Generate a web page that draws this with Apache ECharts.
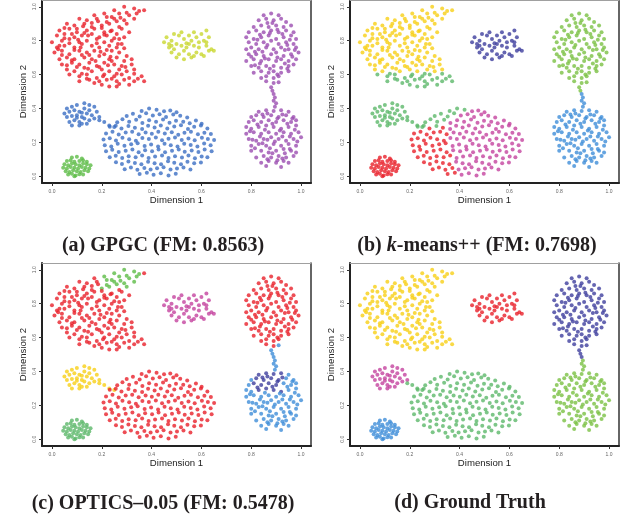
<!DOCTYPE html>
<html>
<head>
<meta charset="utf-8">
<script src="https://cdn.jsdelivr.net/npm/echarts@6/dist/echarts.min.js"></script>
<style>
  html, body { margin: 0; padding: 0; background: #fff; }
  #chart { width: 625px; height: 518px; }
</style>
</head>
<body>
<div id="chart"></div>
<script>
// same point set in all four panels, only the cluster colours change
const topLeftPts = [
  [0.25,0.98],[0.29,1.00],[0.33,0.99],[0.37,0.98],
  [0.17,0.95],[0.21,0.96],[0.24,0.94],[0.27,0.96],[0.31,0.95],[0.34,0.96],
  [0.11,0.93],[0.14,0.92],[0.18,0.93],[0.22,0.91],[0.25,0.93],[0.29,0.92],[0.33,0.93],
  [0.06,0.90],[0.09,0.89],[0.13,0.90],[0.16,0.88],[0.20,0.89],[0.23,0.90],[0.27,0.88],[0.30,0.90],
  [0.03,0.86],[0.07,0.87],[0.10,0.85],[0.14,0.86],[0.17,0.87],[0.21,0.85],[0.24,0.86],[0.28,0.87],[0.31,0.85],
  [0.02,0.83],[0.05,0.84],[0.09,0.82],[0.12,0.83],[0.16,0.84],[0.19,0.82],[0.22,0.83],[0.26,0.84],[0.29,0.82],
  [0.00,0.79],[0.04,0.80],[0.07,0.81],[0.11,0.79],[0.14,0.80],[0.18,0.81],[0.21,0.79],[0.24,0.80],[0.27,0.81],
  [0.02,0.76],[0.05,0.77],[0.09,0.76],[0.12,0.78],[0.16,0.77],[0.19,0.76],[0.23,0.77],[0.26,0.76],[0.28,0.78],
  [0.01,0.73],[0.04,0.74],[0.07,0.72],[0.11,0.74],[0.14,0.73],[0.17,0.74],[0.21,0.72],[0.24,0.74],[0.27,0.73],[0.30,0.71],
  [0.03,0.69],[0.06,0.70],[0.09,0.69],[0.13,0.70],[0.16,0.69],[0.19,0.71],[0.23,0.69],[0.26,0.70],[0.29,0.68],[0.32,0.69],
  [0.04,0.66],[0.08,0.67],[0.11,0.66],[0.15,0.67],[0.18,0.65],[0.21,0.67],[0.25,0.66],[0.28,0.65],[0.32,0.66],
  [0.06,0.63],[0.09,0.62],[0.13,0.64],[0.16,0.62],[0.20,0.63],[0.23,0.62],[0.27,0.63],[0.30,0.62],[0.33,0.63],
  [0.07,0.60],[0.11,0.59],[0.14,0.60],[0.18,0.58],[0.21,0.60],[0.25,0.59],[0.28,0.60],[0.31,0.58],[0.36,0.59],
  [0.11,0.56],[0.15,0.57],[0.19,0.56],[0.22,0.57],[0.26,0.56],[0.29,0.57],[0.33,0.56],[0.37,0.56],
  [0.20,0.54],[0.23,0.53],[0.26,0.53],[0.31,0.54],
  [0.05,0.815],[0.13,0.845],[0.20,0.875],[0.09,0.745],[0.18,0.785],[0.25,0.815],[0.15,0.715],[0.22,0.745],
  [0.08,0.685],[0.24,0.68],[0.12,0.605],[0.19,0.645],[0.26,0.605],[0.16,0.905],[0.26,0.915],[0.10,0.87],
  [0.03,0.77],[0.29,0.755],[0.17,0.55],[0.24,0.575],[0.06,0.655],[0.12,0.715],[0.21,0.835],[0.30,0.965],
  [0.22,0.94],[0.33,0.605],[0.08,0.84],
  [0.04,0.715],[0.115,0.76],[0.195,0.735],[0.265,0.78],[0.07,0.785],[0.145,0.83],[0.235,0.855],[0.185,0.915],
  [0.125,0.885],[0.05,0.875],[0.275,0.935],[0.35,0.975],[0.10,0.645],[0.225,0.655],[0.295,0.645],[0.145,0.635],
  [0.205,0.59],[0.27,0.545],[0.345,0.575],[0.14,0.575],[0.025,0.75],[0.175,0.68],[0.105,0.805],[0.235,0.705]
];
const topMidPts = [
  [0.46,0.82],[0.49,0.84],[0.52,0.85],[0.55,0.83],[0.57,0.85],[0.60,0.84],[0.62,0.86],
  [0.45,0.79],[0.48,0.80],[0.50,0.78],[0.53,0.81],[0.56,0.80],[0.58,0.82],[0.61,0.80],[0.63,0.82],
  [0.47,0.76],[0.49,0.75],[0.52,0.77],[0.54,0.76],[0.57,0.77],[0.59,0.76],[0.62,0.77],[0.64,0.75],
  [0.48,0.73],[0.51,0.72],[0.53,0.74],[0.55,0.72],[0.58,0.73],[0.60,0.72],[0.63,0.74],[0.65,0.74],
  [0.50,0.70],[0.53,0.69],[0.56,0.70],[0.57,0.71],[0.61,0.71],
  [0.47,0.78],[0.51,0.83],[0.55,0.78],[0.59,0.79],[0.62,0.79],[0.54,0.785],[0.48,0.77]
];
const rightTopPts = [
  [0.85,0.95],[0.88,0.96],[0.91,0.95],
  [0.83,0.92],[0.86,0.93],[0.89,0.92],[0.92,0.93],[0.94,0.91],
  [0.81,0.88],[0.84,0.89],[0.87,0.88],[0.90,0.89],[0.93,0.88],[0.96,0.89],
  [0.79,0.85],[0.82,0.86],[0.85,0.85],[0.88,0.86],[0.91,0.85],[0.94,0.86],[0.97,0.85],
  [0.78,0.82],[0.81,0.81],[0.84,0.82],[0.87,0.83],[0.90,0.81],[0.93,0.82],[0.96,0.83],[0.98,0.81],
  [0.79,0.79],[0.82,0.78],[0.85,0.79],[0.88,0.80],[0.91,0.78],[0.94,0.79],[0.97,0.78],
  [0.78,0.75],[0.80,0.76],[0.83,0.75],[0.86,0.76],[0.89,0.75],[0.92,0.76],[0.95,0.75],[0.98,0.76],
  [0.79,0.72],[0.82,0.72],[0.85,0.71],[0.88,0.72],[0.90,0.73],[0.93,0.71],[0.96,0.72],[0.99,0.73],
  [0.78,0.68],[0.81,0.69],[0.84,0.68],[0.87,0.69],[0.90,0.68],[0.92,0.69],[0.95,0.68],[0.98,0.69],
  [0.80,0.65],[0.83,0.64],[0.86,0.65],[0.89,0.65],[0.92,0.64],[0.95,0.65],[0.97,0.66],
  [0.81,0.61],[0.84,0.62],[0.87,0.61],[0.89,0.62],[0.92,0.61],[0.95,0.62],
  [0.84,0.58],[0.86,0.59],[0.89,0.58],[0.91,0.59],
  [0.86,0.56],[0.89,0.55],
  [0.865,0.905],[0.905,0.865],[0.835,0.835],[0.955,0.805],[0.865,0.775],[0.935,0.745],[0.815,0.735],
  [0.905,0.70],[0.835,0.665],[0.935,0.665],[0.875,0.635],[0.905,0.60],[0.925,0.84],[0.80,0.705],
  [0.825,0.805],[0.875,0.845],[0.945,0.775],[0.845,0.735],[0.965,0.705],[0.855,0.695],[0.885,0.905],
  [0.815,0.655],[0.945,0.635],[0.975,0.745]
];
const bridgePts = [
  [0.91,0.555],[0.88,0.525],[0.885,0.505],[0.89,0.485],[0.895,0.465],[0.89,0.445],[0.90,0.43],[0.895,0.41]
];
const rightBottomPts = [
  [0.83,0.38],[0.86,0.39],[0.89,0.385],[0.92,0.39],[0.95,0.38],
  [0.80,0.35],[0.82,0.36],[0.85,0.35],[0.88,0.36],[0.91,0.35],[0.94,0.36],[0.97,0.35],
  [0.79,0.32],[0.81,0.33],[0.84,0.32],[0.87,0.33],[0.90,0.32],[0.93,0.33],[0.96,0.32],[0.98,0.33],
  [0.78,0.29],[0.80,0.28],[0.83,0.29],[0.86,0.30],[0.89,0.29],[0.92,0.28],[0.95,0.29],[0.98,0.30],
  [0.78,0.25],[0.81,0.26],[0.84,0.25],[0.87,0.26],[0.90,0.25],[0.93,0.26],[0.96,0.25],[0.99,0.26],
  [0.79,0.22],[0.82,0.21],[0.85,0.22],[0.88,0.23],[0.91,0.22],[0.94,0.21],[0.97,0.22],[1.00,0.23],
  [0.80,0.18],[0.83,0.19],[0.86,0.18],[0.89,0.19],[0.92,0.18],[0.95,0.19],[0.98,0.18],
  [0.80,0.15],[0.84,0.15],[0.87,0.14],[0.90,0.15],[0.93,0.16],[0.96,0.15],[0.98,0.14],
  [0.82,0.11],[0.85,0.12],[0.88,0.11],[0.91,0.12],[0.94,0.11],[0.97,0.12],
  [0.84,0.08],[0.87,0.09],[0.90,0.08],[0.93,0.09],[0.95,0.08],
  [0.86,0.06],[0.92,0.055],
  [0.865,0.37],[0.925,0.365],[0.825,0.305],[0.885,0.31],[0.945,0.31],[0.795,0.265],[0.855,0.275],
  [0.915,0.27],[0.975,0.275],[0.835,0.235],[0.895,0.205],[0.955,0.235],[0.815,0.165],[0.875,0.165],
  [0.935,0.135],[0.865,0.10],[0.905,0.095],
  [0.845,0.365],[0.905,0.34],[0.965,0.34],[0.805,0.215],[0.865,0.215],[0.925,0.235],[0.985,0.205],
  [0.845,0.195],[0.955,0.16],[0.885,0.135],[0.925,0.105]
];
const midLeftPts = [
  [0.06,0.40],[0.08,0.41],[0.10,0.42],[0.13,0.43],[0.15,0.42],[0.17,0.41],
  [0.05,0.37],[0.07,0.38],[0.09,0.39],[0.11,0.38],[0.13,0.40],[0.15,0.39],[0.18,0.38],
  [0.06,0.35],[0.08,0.355],[0.10,0.36],[0.12,0.35],[0.14,0.37],[0.16,0.36],[0.19,0.35],
  [0.07,0.32],[0.09,0.33],[0.11,0.32],[0.13,0.34],[0.15,0.33],[0.17,0.34],
  [0.08,0.30],[0.11,0.30],[0.12,0.31],[0.14,0.31],[0.10,0.345],[0.12,0.375]
];
const tailPts = [[0.19,0.33],[0.21,0.32],[0.23,0.30],[0.25,0.29]];
const bigEllipsePts = [
  [0.36,0.385],[0.39,0.40],[0.42,0.392],[0.45,0.383],[0.475,0.388],[0.50,0.378],
  [0.30,0.355],[0.325,0.368],[0.352,0.352],[0.378,0.372],[0.405,0.358],[0.432,0.366],[0.458,0.35],[0.487,0.364],[0.515,0.357],[0.543,0.347],
  [0.262,0.318],[0.283,0.336],[0.31,0.322],[0.338,0.334],[0.363,0.314],[0.39,0.33],[0.418,0.322],[0.446,0.335],[0.472,0.316],[0.498,0.328],[0.527,0.322],[0.553,0.312],[0.578,0.329],[0.601,0.31],
  [0.232,0.292],[0.256,0.298],[0.279,0.281],[0.307,0.296],[0.333,0.286],[0.362,0.279],[0.386,0.298],[0.412,0.287],[0.437,0.30],[0.463,0.282],[0.491,0.293],[0.518,0.301],[0.546,0.279],[0.571,0.292],[0.598,0.299],[0.624,0.282],
  [0.217,0.252],[0.243,0.262],[0.268,0.246],[0.296,0.258],[0.322,0.263],[0.348,0.247],[0.376,0.258],[0.401,0.25],[0.427,0.263],[0.453,0.252],[0.481,0.26],[0.507,0.245],[0.532,0.257],[0.558,0.263],[0.586,0.247],[0.612,0.256],[0.638,0.249],
  [0.207,0.217],[0.232,0.224],[0.257,0.211],[0.283,0.227],[0.31,0.218],[0.337,0.21],[0.363,0.226],[0.389,0.219],[0.417,0.228],[0.442,0.212],[0.468,0.221],[0.494,0.229],[0.521,0.214],[0.548,0.222],[0.573,0.212],[0.602,0.227],[0.626,0.219],[0.651,0.214],
  [0.212,0.183],[0.238,0.176],[0.264,0.192],[0.291,0.18],[0.318,0.188],[0.344,0.195],[0.372,0.179],[0.398,0.187],[0.426,0.176],[0.452,0.192],[0.477,0.183],[0.504,0.175],[0.531,0.191],[0.557,0.184],[0.584,0.176],[0.611,0.193],[0.637,0.183],
  [0.217,0.147],[0.242,0.156],[0.268,0.143],[0.296,0.151],[0.323,0.157],[0.348,0.142],[0.374,0.153],[0.402,0.148],[0.428,0.158],[0.454,0.141],[0.482,0.15],[0.509,0.158],[0.533,0.145],[0.561,0.152],[0.588,0.143],[0.613,0.157],[0.641,0.148],
  [0.232,0.112],[0.256,0.121],[0.282,0.107],[0.308,0.118],[0.336,0.112],[0.362,0.123],[0.388,0.108],[0.414,0.116],[0.442,0.123],[0.468,0.107],[0.494,0.118],[0.522,0.111],[0.548,0.122],[0.574,0.106],[0.601,0.117],[0.624,0.112],
  [0.257,0.083],[0.281,0.072],[0.307,0.087],[0.333,0.078],[0.359,0.07],[0.386,0.086],[0.412,0.077],[0.438,0.071],[0.466,0.088],[0.491,0.079],[0.518,0.07],[0.544,0.085],[0.571,0.076],[0.598,0.081],
  [0.292,0.041],[0.317,0.052],[0.343,0.038],[0.371,0.049],[0.396,0.04],[0.422,0.047],[0.448,0.053],[0.476,0.039],[0.502,0.046],[0.528,0.052],[0.556,0.04],
  [0.352,0.013],[0.381,0.021],[0.408,0.008],[0.437,0.017],[0.468,0.004],[0.497,0.014]
];
const bottomLeftPts = [
  [0.08,0.11],[0.10,0.115],[0.12,0.105],
  [0.06,0.09],[0.075,0.095],[0.09,0.085],[0.11,0.09],[0.125,0.095],[0.14,0.085],
  [0.05,0.07],[0.065,0.065],[0.08,0.075],[0.095,0.07],[0.11,0.065],[0.125,0.075],[0.14,0.07],[0.155,0.065],
  [0.045,0.05],[0.06,0.045],[0.075,0.055],[0.09,0.05],[0.105,0.045],[0.12,0.055],[0.135,0.05],[0.15,0.045],
  [0.055,0.03],[0.07,0.025],[0.085,0.035],[0.10,0.03],[0.115,0.025],[0.13,0.035],[0.145,0.03],
  [0.065,0.01],[0.08,0.015],[0.095,0.005],[0.11,0.012],[0.125,0.01],[0.09,0.0]
];

const tickValues = [0, 0.2, 0.4, 0.6, 0.8, 1.0];
const captions = [
  '(a) GPGC (FM: 0.8563)',
  '(b) {i|k}-means++ (FM: 0.7698)',
  '(c) OPTICS\u20130.05 (FM: 0.5478)',
  '(d) Ground Truth'
];

const C = {
  red: '#e8212b',
  olive: '#c9d72f',
  purple: '#9b4db0',
  blue: '#3b6ec3',
  green: '#5dbb46',
  yellow: '#f7cf17',
  green2: '#5cb86a',
  indigo: '#3e3f9e',
  lime: '#7ac143',
  sky: '#3e8dd8',
  magenta: '#c4449f'
};

const groups = {
  topLeft: topLeftPts, topMid: topMidPts, rightTop: rightTopPts, bridge: bridgePts,
  rightBottom: rightBottomPts, midLeft: midLeftPts, tail: tailPts,
  bigEllipse: bigEllipsePts, bottomLeft: bottomLeftPts
};

const panelColors = [
  {
    topLeft: () => C.red, topMid: () => C.olive, rightTop: () => C.purple, bridge: () => C.purple,
    rightBottom: () => C.purple, midLeft: () => C.blue, tail: () => C.blue,
    bigEllipse: () => C.blue, bottomLeft: () => C.green
  },
  {
    topLeft: p => (p[1] < 0.61 ? C.green2 : C.yellow),
    topMid: () => C.indigo,
    rightTop: () => C.lime,
    bridge: p => (p[1] >= 0.5 ? C.lime : C.sky),
    rightBottom: () => C.sky,
    midLeft: () => C.green2, tail: () => C.green2,
    bigEllipse: p => {
      if (p[1] > 0.29 + Math.max(0, p[0] - 0.32)) return C.green2;
      if (p[0] < 0.35 + (0.25 - p[1]) * 0.15) return C.red;
      return C.magenta;
    },
    bottomLeft: () => C.red
  },
  {
    topLeft: p => (p[0] >= 0.2 && p[0] <= 0.355 && p[1] >= 0.89 ? C.green : C.red),
    topMid: () => C.magenta,
    rightTop: () => C.red,
    bridge: () => C.sky,
    rightBottom: p => (p[1] >= 0.28 && p[0] >= 0.81 && p[0] <= 0.925 ? C.indigo : C.sky),
    midLeft: () => C.yellow, tail: () => C.yellow,
    bigEllipse: () => C.red,
    bottomLeft: () => C.green2
  },
  {
    topLeft: () => C.yellow, topMid: () => C.red, rightTop: () => C.indigo,
    bridge: p => (p[1] >= 0.466 ? C.indigo : C.lime),
    rightBottom: () => C.lime, midLeft: () => C.magenta, tail: () => C.green2,
    bigEllipse: () => C.green2, bottomLeft: () => C.sky
  }
];

const gridPos = [
  { left: 42, top: 0 },
  { left: 350, top: 0 },
  { left: 42, top: 263 },
  { left: 350, top: 263 }
];
const captionPos = [[163, 246], [477, 246], [163, 504], [470, 503]];

const chart = echarts.init(document.getElementById('chart'), null, { renderer: 'canvas' });

const grids = [];
const xAxes = [];
const yAxes = [];
const series = [];
const graphics = [];

const axisRange = { min: -0.04, max: 1.04 };

gridPos.forEach((g, i) => {
  grids.push({ left: g.left, top: g.top, width: 269, height: 183, show: false });

  // bottom x axis with ticks and labels
  xAxes.push({
    type: 'value', gridIndex: i, position: 'bottom', ...axisRange,
    name: 'Dimension 1', nameLocation: 'middle', nameGap: 12,
    nameTextStyle: { fontFamily: 'Liberation Sans', fontSize: 9.6, color: '#222' },
    axisLine: { show: true, onZero: false, lineStyle: { color: '#222', width: 2 } },
    axisTick: { show: true, length: 3, customValues: tickValues, lineStyle: { color: '#333', width: 1 } },
    axisLabel: {
      show: true, customValues: tickValues, margin: 6, fontSize: 5,
      fontFamily: 'Liberation Sans', color: '#666', formatter: v => v.toFixed(1)
    },
    splitLine: { show: false }
  });
  // top frame edge
  xAxes.push({
    type: 'value', gridIndex: i, position: 'top', ...axisRange,
    axisLine: { show: true, onZero: false, lineStyle: { color: '#a0a0a0', width: 1 } },
    axisTick: { show: false }, axisLabel: { show: false }, splitLine: { show: false }
  });

  yAxes.push({
    type: 'value', gridIndex: i, position: 'left', ...axisRange,
    name: 'Dimension 2', nameLocation: 'middle', nameGap: 14,
    nameTextStyle: { fontFamily: 'Liberation Sans', fontSize: 9.6, color: '#222' },
    axisLine: { show: true, onZero: false, lineStyle: { color: '#222', width: 2 } },
    axisTick: { show: true, length: 3, customValues: tickValues, lineStyle: { color: '#333', width: 1 } },
    axisLabel: {
      show: true, customValues: tickValues, margin: 4.5, fontSize: 5, rotate: 90,
      fontFamily: 'Liberation Sans', color: '#666', formatter: v => v.toFixed(1)
    },
    splitLine: { show: false }
  });
  // right frame edge
  yAxes.push({
    type: 'value', gridIndex: i, position: 'right', ...axisRange,
    axisLine: { show: true, onZero: false, lineStyle: { color: '#333', width: 1.5 } },
    axisTick: { show: false }, axisLabel: { show: false }, splitLine: { show: false }
  });

  const data = [];
  const rules = panelColors[i];
  Object.keys(groups).forEach(key => {
    groups[key].forEach(p => {
      data.push({ value: p, itemStyle: { color: rules[key](p) } });
    });
  });

  series.push({
    type: 'scatter',
    xAxisIndex: i * 2,
    yAxisIndex: i * 2,
    symbol: 'circle',
    symbolSize: 4,
    data,
    silent: true
  });

  graphics.push({
    type: 'text',
    x: captionPos[i][0],
    y: captionPos[i][1],
    style: {
      text: captions[i],
      font: 'bold 20px "Liberation Serif"',
      fill: '#231f20',
      align: 'center',
      verticalAlign: 'middle',
      textAlign: 'center',
      textVerticalAlign: 'middle',
      rich: {
        i: { fontStyle: 'italic', fontWeight: 'bold', fontSize: 20, fontFamily: 'Liberation Serif', fill: '#231f20' }
      }
    }
  });
});

chart.setOption({
  animation: false,
  backgroundColor: '#fff',
  grid: grids,
  xAxis: xAxes,
  yAxis: yAxes,
  series,
  graphic: graphics
});
</script>
</body>
</html>
